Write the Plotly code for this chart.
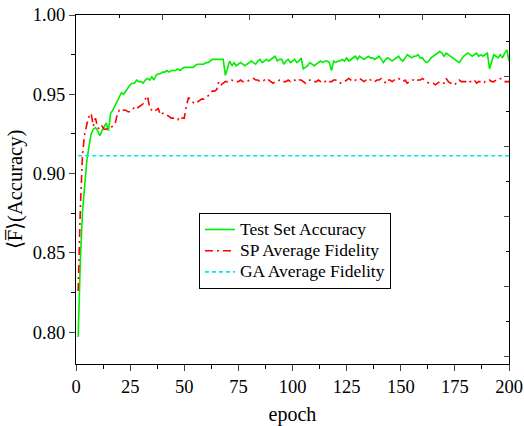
import plotly.graph_objects as go

epochs = list(range(1, 201))

test_acc = [
    0.797, 0.845, 0.876, 0.895, 0.908, 0.917, 0.925, 0.928, 0.929, 0.927,
    0.924, 0.927, 0.930, 0.932, 0.927, 0.938, 0.940, 0.943, 0.946, 0.949,
    0.951, 0.950, 0.952, 0.954, 0.956, 0.957, 0.957, 0.959, 0.958, 0.958,
    0.957, 0.959, 0.960, 0.959, 0.961, 0.959, 0.962, 0.963, 0.963, 0.964,
    0.964, 0.965, 0.964, 0.965, 0.965, 0.965, 0.966, 0.965, 0.966, 0.967,
    0.967, 0.967, 0.967, 0.967, 0.968, 0.969, 0.969, 0.969, 0.969, 0.970,
    0.970, 0.971, 0.972, 0.972, 0.972, 0.972, 0.972, 0.972, 0.962, 0.967,
    0.971, 0.968, 0.970, 0.968, 0.969, 0.970, 0.969, 0.968, 0.969, 0.970,
    0.971, 0.970, 0.969, 0.971, 0.972, 0.970, 0.971, 0.972, 0.971, 0.972,
    0.973, 0.974, 0.971, 0.972, 0.972, 0.969, 0.971, 0.972, 0.970, 0.971,
    0.972, 0.970, 0.971, 0.973, 0.966, 0.967, 0.968, 0.970, 0.969, 0.968,
    0.969, 0.970, 0.971, 0.970, 0.971, 0.971, 0.970, 0.965, 0.971, 0.970,
    0.971, 0.971, 0.972, 0.971, 0.973, 0.971, 0.972, 0.973, 0.974, 0.972,
    0.974, 0.973, 0.972, 0.973, 0.974, 0.973, 0.973, 0.972, 0.973, 0.974,
    0.972, 0.970, 0.972, 0.973, 0.972, 0.971, 0.972, 0.973, 0.974, 0.972,
    0.971, 0.973, 0.975, 0.974, 0.973, 0.974, 0.974, 0.975, 0.973, 0.973,
    0.971, 0.970, 0.971, 0.973, 0.974, 0.975, 0.976, 0.977, 0.976, 0.974,
    0.976, 0.975, 0.974, 0.973, 0.972, 0.971, 0.970, 0.972, 0.974, 0.975,
    0.976, 0.975, 0.974, 0.975, 0.976, 0.974, 0.975, 0.974, 0.975, 0.976,
    0.966, 0.971, 0.975, 0.974, 0.973, 0.975, 0.973, 0.976, 0.978, 0.971,
]

sp_fid = [
    0.826, 0.878, 0.912, 0.925, 0.931, 0.936, 0.938, 0.930, 0.935, 0.929,
    0.928, 0.930, 0.928, 0.928, 0.929, 0.929, 0.930, 0.931, 0.937, 0.940,
    0.941, 0.940, 0.940, 0.939, 0.939, 0.940, 0.942, 0.941, 0.942, 0.943,
    0.944, 0.947, 0.949, 0.942, 0.940, 0.939, 0.940, 0.941, 0.937, 0.938,
    0.938, 0.937, 0.936, 0.935, 0.935, 0.935, 0.934, 0.936, 0.935, 0.935,
    0.943, 0.948, 0.946, 0.945, 0.944, 0.945, 0.946, 0.947, 0.947, 0.948,
    0.949, 0.951, 0.952, 0.952, 0.953, 0.958, 0.956, 0.957, 0.958, 0.958,
    0.959, 0.959, 0.958, 0.958, 0.958, 0.959, 0.958, 0.958, 0.958, 0.959,
    0.959, 0.960, 0.959, 0.959, 0.958, 0.958, 0.959, 0.958, 0.959, 0.958,
    0.957, 0.958, 0.958, 0.959, 0.959, 0.958, 0.958, 0.959, 0.958, 0.959,
    0.959, 0.958, 0.959, 0.959, 0.958, 0.957, 0.958, 0.959, 0.959, 0.958,
    0.958, 0.959, 0.958, 0.957, 0.958, 0.959, 0.958, 0.958, 0.959, 0.959,
    0.958, 0.957, 0.958, 0.958, 0.959, 0.960, 0.959, 0.958, 0.959, 0.959,
    0.960, 0.959, 0.958, 0.959, 0.960, 0.959, 0.959, 0.958, 0.959, 0.959,
    0.960, 0.959, 0.957, 0.959, 0.959, 0.958, 0.959, 0.959, 0.960, 0.959,
    0.958, 0.959, 0.957, 0.958, 0.959, 0.959, 0.958, 0.959, 0.959, 0.960,
    0.959, 0.958, 0.957, 0.957, 0.957, 0.956, 0.957, 0.958, 0.957, 0.957,
    0.960, 0.958, 0.957, 0.957, 0.956, 0.958, 0.959, 0.958, 0.958, 0.958,
    0.959, 0.958, 0.958, 0.959, 0.957, 0.958, 0.958, 0.957, 0.958, 0.958,
    0.959, 0.958, 0.958, 0.959, 0.960, 0.960, 0.959, 0.958, 0.958, 0.958,
]

ga_fid_value = 0.9113
ga_fid = [ga_fid_value] * len(epochs)

series_names = ["Test Set Accuracy", "SP Average Fidelity", "GA Average Fidelity"]

x_ticks = [0, 25, 50, 75, 100, 125, 150, 175, 200]
y_ticks = [0.80, 0.85, 0.90, 0.95, 1.00]
y_tick_text = ["0.80", "0.85", "0.90", "0.95", "1.00"]

FONT = "Liberation Serif"


def legend_label(text):
    return '<span style="font-size:17.5px">' + text + "</span>"


fig = go.Figure()
fig.add_trace(go.Scatter(x=epochs, y=test_acc, mode="lines", name=legend_label(series_names[0]),
                         line=dict(color="#00ee00", width=1.6)))
fig.add_trace(go.Scatter(x=epochs, y=sp_fid, mode="lines", name=legend_label(series_names[1]),
                         line=dict(color="#ff0000", width=1.6, dash="8px,4px,2px,4px")))
fig.add_trace(go.Scatter(x=epochs, y=ga_fid, mode="lines", name=legend_label(series_names[2]),
                         line=dict(color="#00e5ee", width=1.6, dash="4px,3px")))
# invisible trace to carry the decorative top/right tick axes
fig.add_trace(go.Scatter(x=[None], y=[None], xaxis="x2", yaxis="y2", showlegend=False,
                         hoverinfo="skip"))

fig.update_layout(
    width=524, height=426,
    margin=dict(l=76, r=15, t=15, b=62, autoexpand=False),
    paper_bgcolor="white", plot_bgcolor="white",
    font=dict(family=FONT, size=18.5, color="black"),
    showlegend=True,
    legend=dict(x=0.284, y=0.433, xanchor="left", yanchor="top",
                bgcolor="white", bordercolor="black", borderwidth=1,
                font=dict(family=FONT, size=14), tracegroupgap=0,
                itemwidth=30),
    xaxis=dict(range=[0, 200], tickvals=x_ticks, ticks="outside", ticklen=6, tickwidth=1.3,
               showline=True, linecolor="black", linewidth=1.3, mirror=True,
               showgrid=False, zeroline=False, automargin=False,
               minor=dict(tickvals=[12.5 + 25 * i for i in range(8)], ticks="outside",
                          ticklen=3.5, tickwidth=1.3, tickcolor="black"),
               title=dict(text="epoch", font=dict(size=20), standoff=18)),
    yaxis=dict(range=[0.78, 1.0], tickvals=y_ticks, ticktext=y_tick_text,
               ticks="outside", ticklen=6, tickwidth=1.3,
               showline=True, linecolor="black", linewidth=1.3, mirror=True,
               showgrid=False, zeroline=False, automargin=False,
               minor=dict(tickvals=[0.825, 0.875, 0.925, 0.975], ticks="outside",
                          ticklen=3.5, tickwidth=1.3, tickcolor="black"),
               title=dict(text="⟨F̅⟩(Accuracy)", font=dict(size=20.5), standoff=4)),
    xaxis2=dict(overlaying="x", side="top", anchor="y", range=[0, 200],
                tickmode="linear", tick0=0, dtick=40, ticks="inside", ticklen=5,
                tickwidth=1.3, showticklabels=False, showgrid=False, zeroline=False,
                showline=False, automargin=False,
                minor=dict(tickmode="linear", tick0=0, dtick=20, ticks="inside",
                           ticklen=3, tickwidth=1.3, tickcolor="black")),
    yaxis2=dict(overlaying="y", side="right", anchor="x", range=[0, 349],
                tickmode="linear", tick0=8, dtick=70, ticks="inside", ticklen=5,
                tickwidth=1.3, showticklabels=False, showgrid=False, zeroline=False,
                showline=False, automargin=False,
                minor=dict(tickmode="linear", tick0=8, dtick=35, ticks="inside",
                           ticklen=3, tickwidth=1.3, tickcolor="black")),
)

fig.write_html("out.html")
